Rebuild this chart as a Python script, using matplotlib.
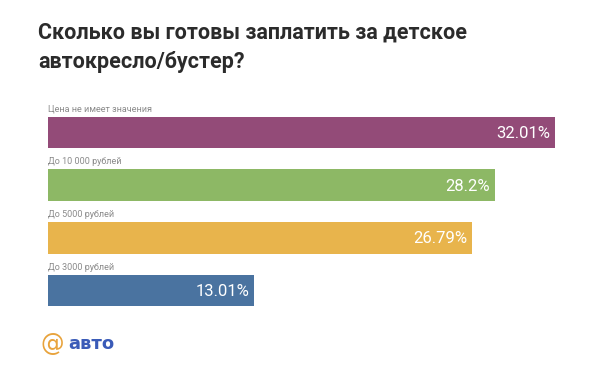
import matplotlib.pyplot as plt

categories = ['Цена не имеет значения', 'До 10 000 рублей', 'До 5000 рублей', 'До 3000 рублей']
values = [32.01, 28.2, 26.79, 13.01]
value_labels = ['32.01%', '28.2%', '26.79%', '13.01%']
colors = ['#934b78', '#8db865', '#e8b44c', '#4a73a0']

title = 'Сколько вы готовы заплатить за детское\nавтокресло/бустер?'

W, H = 600, 375
fig = plt.figure(figsize=(6, 3.75), dpi=100)
fig.patch.set_facecolor('white')

# axes placed in pixel coordinates
x0, x1 = 48, 568
y_top, y_bot = 100, 320
ax = fig.add_axes([x0 / W, 1 - y_bot / H, (x1 - x0) / W, (y_bot - y_top) / H])
px_per_unit = 507 / 32.01
ax.set_xlim(0, (x1 - x0) / px_per_unit)
step = 52.67
first = 132.5
ax.set_ylim((y_bot - first) / step, (y_top - first) / step)
ax.axis('off')

pos = list(range(len(values)))
ax.barh(pos, values, height=0.6, color=colors)

for i, (c, v, lab) in enumerate(zip(categories, values, value_labels)):
    ax.text(0, i - 0.36, c, fontsize=6.5, color='#8a8a8a', family='Roboto',
            va='bottom', ha='left')
    ax.text(v - 0.3, i + 0.02, lab, fontsize=12, color='white', family='Roboto',
            va='center', ha='right')

fig.text(38 / W, 1 - 22 / H, title, fontsize=15.5, fontweight='bold', family='Roboto',
         color='#2b2b2b', va='top', ha='left', linespacing=1.4)

# logo
fig.text(40 / W, 1 - 344 / H, '@', fontsize=17, color='#e8a33c', family='DejaVu Sans',
         va='center', ha='left')
fig.text(68 / W, 1 - 344 / H, 'авто', fontsize=13, color='#3a5bb8', fontweight='bold',
         family='DejaVu Sans', va='center', ha='left')

fig.savefig('out.png', dpi=100)
